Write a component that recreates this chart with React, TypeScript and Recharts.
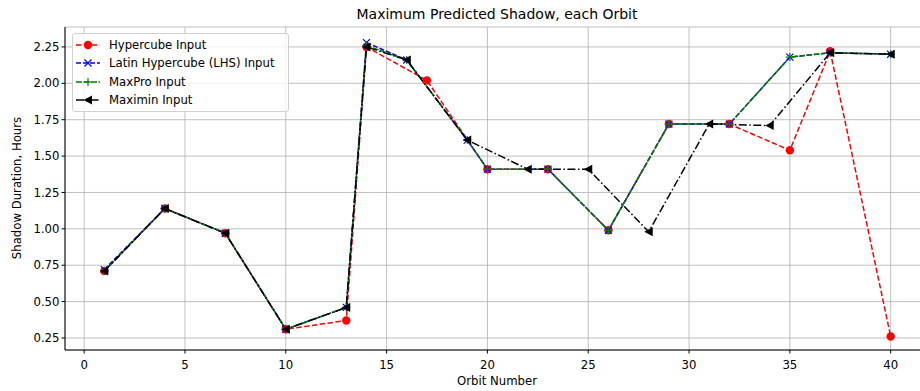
import { LineChart, Line, XAxis, YAxis, CartesianGrid } from 'recharts';

const hcOrbits = [1, 4, 7, 10, 13, 14, 17, 20, 23, 26, 29, 32, 35, 37, 40];
const hcShadow = [0.71, 1.14, 0.97, 0.31, 0.37, 2.25, 2.02, 1.41, 1.41, 0.99, 1.72, 1.72, 1.54, 2.22, 0.26];

const lhsOrbits = [1, 4, 7, 10, 13, 14, 16, 19, 20, 23, 26, 29, 32, 35, 37, 40];
const lhsShadow = [0.72, 1.14, 0.97, 0.31, 0.46, 2.28, 2.16, 1.61, 1.41, 1.41, 0.99, 1.72, 1.72, 2.18, 2.21, 2.2];

const mpOrbits = [1, 4, 7, 10, 13, 14, 16, 19, 20, 23, 26, 29, 32, 35, 37, 40];
const mpShadow = [0.71, 1.14, 0.97, 0.31, 0.46, 2.26, 2.16, 1.61, 1.41, 1.41, 0.99, 1.72, 1.72, 2.18, 2.21, 2.2];

const mmOrbits = [1, 4, 7, 10, 13, 14, 16, 19, 22, 25, 28, 31, 34, 37, 40];
const mmShadow = [0.71, 1.14, 0.97, 0.31, 0.46, 2.25, 2.16, 1.61, 1.41, 1.41, 0.98, 1.72, 1.71, 2.21, 2.2];

const xTicks = [0, 5, 10, 15, 20, 25, 30, 35, 40];
const yTicks = [0.25, 0.5, 0.75, 1.0, 1.25, 1.5, 1.75, 2.0, 2.25];

const toRows = (xs: number[], ys: number[]) => xs.map((x, i) => ({ x, y: ys[i] }));

const FONT = '"DejaVu Sans", sans-serif';

const Circle = ({ cx, cy }: any) => <circle cx={cx} cy={cy} r={4.2} fill="#ff0000" />;
const Cross = ({ cx, cy }: any) => (
  <path d={`M${cx - 3.5},${cy - 3.5}L${cx + 3.5},${cy + 3.5}M${cx - 3.5},${cy + 3.5}L${cx + 3.5},${cy - 3.5}`} stroke="#0000ff" strokeWidth={1.2} />
);
const Plus = ({ cx, cy }: any) => (
  <path d={`M${cx - 4},${cy}L${cx + 4},${cy}M${cx},${cy - 4}L${cx},${cy + 4}`} stroke="#008000" strokeWidth={1.2} />
);
const TriLeft = ({ cx, cy }: any) => (
  <path d={`M${cx - 4.5},${cy}L${cx + 4},${cy - 4.5}L${cx + 4},${cy + 4.5}Z`} fill="#000" />
);

const series = [
  { name: 'Hypercube Input', color: '#ff0000', dash: '5.5 2.4', Marker: Circle },
  { name: 'Latin Hypercube (LHS) Input', color: '#0000ff', dash: '5 2', Marker: Cross },
  { name: 'MaxPro Input', color: '#008000', dash: '6 1.5', Marker: Plus },
  { name: 'Maximin Input', color: '#000000', dash: '8 2.5 1.5 2.5', Marker: TriLeft },
];

const LegendBox = () => (
  <div
    style={{
      position: 'absolute', left: 72, top: 33, width: 215, height: 77,
      background: 'rgba(255,255,255,0.8)', border: '1px solid #d0d0d0', borderRadius: 3,
      fontFamily: FONT, fontSize: 11.7, color: '#000',
    }}
  >
    {series.map((s, i) => {
      const M = s.Marker;
      return (
        <div key={s.name} style={{ position: 'absolute', left: 0, top: 2 + i * 18.3, height: 18, display: 'flex', alignItems: 'center' }}>
          <svg width={36} height={18} style={{ display: 'block' }}>
            <line x1={3} y1={9} x2={27} y2={9} stroke={s.color} strokeWidth={1.5} strokeDasharray={s.dash} />
            <M cx={15} cy={9} />
          </svg>
          <span style={{ whiteSpace: 'nowrap' }}>{s.name}</span>
        </div>
      );
    })}
  </div>
);

const App = () => {
  const sets = [toRows(hcOrbits, hcShadow), toRows(lhsOrbits, lhsShadow), toRows(mpOrbits, mpShadow), toRows(mmOrbits, mmShadow)];
  return (
    <div style={{ position: 'absolute', left: 0, top: 0, width: 920, height: 391, overflow: 'hidden', background: '#fff' }}>
      <LineChart width={931} height={391} margin={{ top: 27, right: 1, bottom: 0, left: 0 }}>
        <CartesianGrid stroke="#b0b0b0" strokeWidth={0.8} />
        <XAxis
          dataKey="x" type="number" domain={[-0.95, 41.95]} ticks={xTicks} allowDataOverflow
          tick={{ fontSize: 11.7, fill: '#000', fontFamily: FONT, dy: 5 }} tickSize={3.5}
          stroke="#000" axisLine={{ stroke: '#000', strokeWidth: 1 }} height={41}
        />
        <XAxis xAxisId="top" orientation="top" type="number" domain={[0, 1]} tick={false} tickLine={false} height={0} axisLine={{ stroke: '#000' }} />
        <YAxis
          type="number" domain={[0.1675, 2.387]} ticks={yTicks} allowDataOverflow width={65}
          tickFormatter={(v: number) => v.toFixed(2)}
          tick={{ fontSize: 11.7, fill: '#000', fontFamily: FONT }} tickSize={3.5}
          stroke="#000" axisLine={{ stroke: '#000', strokeWidth: 1 }}
        />
        {series.map((s, i) => (
          <Line
            key={s.name} data={sets[i]} dataKey="y" name={s.name} type="linear"
            stroke={s.color} strokeWidth={1.5} strokeDasharray={s.dash}
            dot={(p: any) => <s.Marker key={`${s.name}-${p.index}`} cx={p.cx} cy={p.cy} />}
            activeDot={false} isAnimationActive={false}
          />
        ))}
      </LineChart>
      <div style={{ position: 'absolute', left: 64, width: 866, top: 6, textAlign: 'center', fontFamily: FONT, fontSize: 14, color: '#000' }}>
        Maximum Predicted Shadow, each Orbit
      </div>
      <div style={{ position: 'absolute', left: 64, width: 866, top: 374, textAlign: 'center', fontFamily: FONT, fontSize: 11.7, color: '#000' }}>
        Orbit Number
      </div>
      <div
        style={{
          position: 'absolute', left: 17, top: 188, transform: 'translate(-50%, -50%) rotate(-90deg)',
          whiteSpace: 'nowrap', fontFamily: FONT, fontSize: 11.7, color: '#000',
        }}
      >
        Shadow Duration, Hours
      </div>
      <LegendBox />
    </div>
  );
};

export default App;
